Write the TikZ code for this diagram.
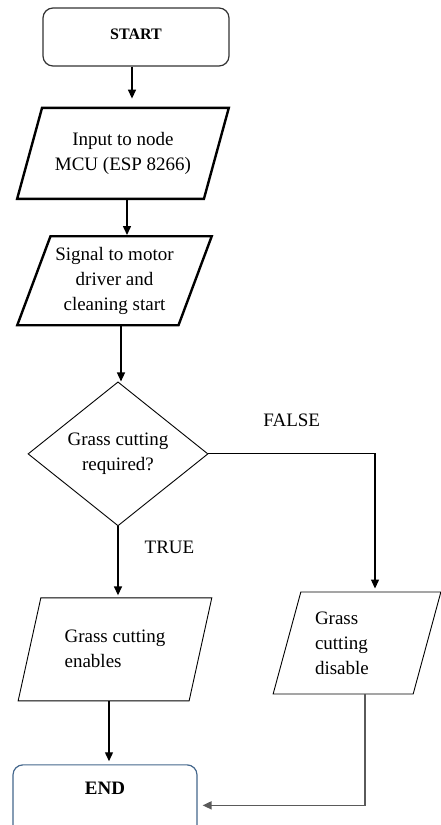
\documentclass[tikz,border=0pt]{standalone}
\usepackage{fontspec}
\setmainfont{LiberationSerif}[Extension=.ttf, UprightFont=*-Regular, BoldFont=*-Bold, ItalicFont=*-Italic, BoldItalicFont=*-BoldItalic]
\usepackage{tikz}
\usetikzlibrary{arrows.meta,positioning,shapes.geometric}
\definecolor{EndBlue}{HTML}{44678C}
\definecolor{LineGrey}{HTML}{5A5A5A}
\definecolor{BoxGrey}{HTML}{333333}
\tikzset{
  terminal/.style={draw=BoxGrey, rounded corners=10pt, line width=1.2pt, align=center, font=\bfseries\fontsize{16}{19}\selectfont},
  iobox/.style={draw, trapezium, trapezium stretches=true, align=center, inner sep=2pt, font=\fontsize{19}{25}\selectfont},
  decision/.style={draw, diamond, aspect=1.25, line width=0.9pt, align=center, inner sep=0pt, font=\fontsize{19}{25}\selectfont},
  flowlabel/.style={inner sep=2pt, font=\fontsize{19}{23}\selectfont},
  arrow/.style={-{Triangle[length=9pt,width=8pt]}, line width=1.4pt}
}

\begin{document}
\begin{tikzpicture}[x=1pt, y=1pt]
  \clip (0,0) rectangle (441,-825);
  \node[terminal, minimum width=186pt, minimum height=58pt, text depth=6pt] (start) at (136,-37) {START};
  \node[iobox, line width=2.4pt, trapezium left angle=65, trapezium right angle=115, minimum width=212pt, minimum height=91pt, below=40pt of start, xshift=-13pt] (input) {Input to node\\MCU (ESP 8266)};
  \node[iobox, line width=2.4pt, trapezium left angle=66, trapezium right angle=114, minimum width=195pt, minimum height=89pt, below=35pt of input, xshift=-8.5pt] (signal) {Signal to motor\\driver and\\cleaning start};
  \node[decision, minimum width=180pt, minimum height=144pt, below=55pt of signal, xshift=3.5pt] (decide) {Grass cutting\\required?};
  \node[iobox, line width=0.9pt, align=left, trapezium left angle=69, trapezium right angle=111, minimum width=194pt, minimum height=103pt, below=71pt of decide, xshift=-3pt] (enables) {Grass cutting\\enables};
  \node[iobox, line width=0.9pt, align=left, text width=84pt, trapezium left angle=72, trapezium right angle=108, minimum width=168pt, minimum height=102pt] (disable) at (357,-643) {Grass\\cutting\\disable};
  \node[terminal, draw=EndBlue, font=\bfseries\fontsize{19}{23}\selectfont, minimum width=184pt, minimum height=73pt, text depth=27pt, below=63pt of enables, xshift=-10pt] (end) {END};

  \draw[arrow, shorten >=8pt] ([xshift=-4pt]start.south) -- ([xshift=-4pt]start.south |- input.north);
  \draw[arrow] ([xshift=4pt]input.south) -- ([xshift=4pt]input.south |- signal.north);
  \draw[arrow] ([xshift=6.5pt]signal.south) -- ([xshift=6.5pt]signal.south |- decide.north);
  \draw[arrow, shorten >=2pt] (decide.south) -- node[flowlabel, pos=0.3, right=24pt] {TRUE} (decide.south |- enables.north);
  \draw[arrow, line width=1.2pt, shorten >=3pt] (decide.east) -| node[flowlabel, pos=0.25, above=25pt] {FALSE} ([xshift=18pt]disable.north);
  \draw[arrow, shorten >=3pt] ([xshift=-6pt]enables.south) -- ([xshift=-6pt]enables.south |- end.north);
  \draw[arrow, draw=LineGrey, line width=1.6pt, shorten >=5pt] ([xshift=8pt]disable.south) |- ([yshift=-4pt]end.east);
\end{tikzpicture}
\end{document}
